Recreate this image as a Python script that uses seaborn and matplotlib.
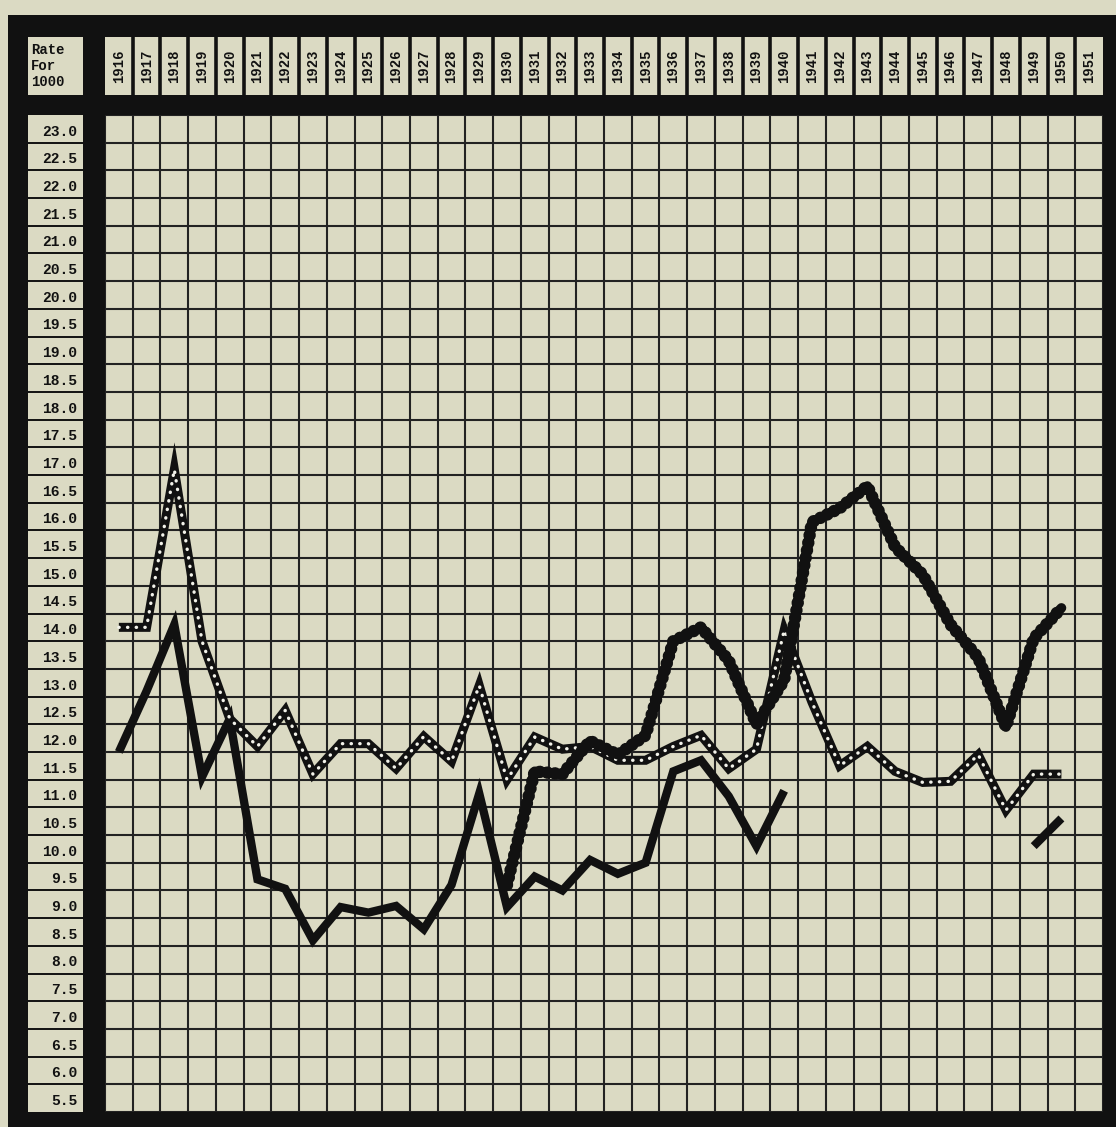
import pandas as pd
import numpy as np
import seaborn as sns
import matplotlib.pyplot as plt
from matplotlib.patches import Rectangle

paper = '#dbdac3'
ink = '#111111'

years = list(range(1916, 1952))

# heavy solid line (no values 1941-1948)
solid = [12.0, 13.1, 14.3, 11.55, 12.6, 9.7, 9.53, 8.6, 9.2, 9.1,
         9.22, 8.8, 9.6, 11.25, 9.2, 9.75, 9.5, 10.05, 9.8, 10.0,
         11.65, 11.85, 11.2, 10.3, 11.3, None, None, None, None, None,
         None, None, None, 10.3, 10.8, None]

# double line with white dots
dotted = [14.25, 14.25, 17.1, 14.0, 12.6, 12.1, 12.75, 11.6, 12.15, 12.15,
          11.7, 12.28, 11.83, 13.2, 11.5, 12.27, 12.05, 12.1, 11.85, 11.85,
          12.1, 12.3, 11.7, 12.05, 14.2, 12.9, 11.75, 12.1, 11.65, 11.45,
          11.47, 11.95, 10.95, 11.6, 11.6, None]

# beaded line, starts 1930
beaded = [None] * 14 + [9.6, 11.65, 11.6, 12.2, 11.95, 12.3, 14.0, 14.25, 13.65, 12.5,
                        13.3, 16.15, 16.4, 16.8, 15.7, 15.2, 14.3, 13.7, 12.45, 14.05,
                        14.6, None]

y_labels = np.arange(5.5, 23.01, 0.5)


def segments(vals):
    d = pd.DataFrame({'year': years, 'rate': pd.to_numeric(pd.Series(vals), errors='coerce')})
    d['seg'] = d['rate'].isna().cumsum()
    return d.dropna()


sns.set_style("white")
plt.rcParams['font.family'] = ['Liberation Mono', 'DejaVu Sans Mono']

W, H = 1116, 1127
fig = plt.figure(figsize=(W / 100, H / 100), dpi=100, facecolor=paper)

# black frame
fig.add_artist(Rectangle((8 / W, 0), 1 - 8 / W, (H - 15) / H, transform=fig.transFigure,
                         facecolor=ink, edgecolor='none', zorder=0))


def px_axes(x0, y0, x1, y1):
    a = fig.add_axes([x0 / W, (H - y1) / H, (x1 - x0) / W, (y1 - y0) / H])
    a.set_facecolor(paper)
    for s in a.spines.values():
        s.set_visible(False)
    a.set_xticks([])
    a.set_yticks([])
    return a


ax = px_axes(105, 115, 1103, 1112)
head = px_axes(105, 37, 1103, 95)
lab = px_axes(28, 115, 83, 1112)
corner = px_axes(28, 37, 83, 95)

# main grid
ax.set_xlim(1915.5, 1951.5)
ax.set_ylim(5.5, 23.5)
ax.set_xticks(np.arange(1915.5, 1951.6, 1))
ax.set_yticks(np.arange(5.5, 23.51, 0.5))
ax.tick_params(length=0, labelbottom=False, labelleft=False)
ax.grid(True, color='#222222', linewidth=1.5)
ax.set_axisbelow(True)

d = segments(solid)
sns.lineplot(data=d, x='year', y='rate', units='seg', estimator=None, ax=ax,
             color=ink, linewidth=6.0, solid_joinstyle='miter', solid_capstyle='butt')

d = segments(dotted)
sns.lineplot(data=d, x='year', y='rate', units='seg', estimator=None, ax=ax,
             color=ink, linewidth=6.5, solid_joinstyle='miter', solid_capstyle='butt')
sns.lineplot(data=d, x='year', y='rate', units='seg', estimator=None, ax=ax,
             color='#f2f2ea', linewidth=2.4, linestyle=(0, (0.1, 2.5)),
             dash_capstyle='round')

d = segments(beaded)
sns.lineplot(data=d, x='year', y='rate', units='seg', estimator=None, ax=ax,
             color=ink, linewidth=7.0, solid_joinstyle='round')
sns.lineplot(data=d, x='year', y='rate', units='seg', estimator=None, ax=ax,
             color=ink, linewidth=9.0, linestyle=(0, (0.01, 0.6)),
             dash_capstyle='round')
ax.set_xlabel('')
ax.set_ylabel('')

# year header
head.set_xlim(1915.5, 1951.5)
head.set_ylim(0, 1)
head.vlines(np.arange(1916.5, 1951.5, 1), 0, 1, color=ink, linewidth=2.6)
for yr in years:
    head.text(yr, 0.5, str(yr), rotation=90, ha='center', va='center',
              fontsize=10, fontweight='bold', color=ink)

# rate labels
lab.set_xlim(0, 1)
lab.set_ylim(5.5, 23.5)
lab.hlines(np.arange(6.0, 23.01, 0.5), 0, 1, color=ink, linewidth=1.4)
for v in y_labels:
    lab.text(0.9, v + 0.2, '{:.1f}'.format(v), ha='right', va='center',
             fontsize=10.5, fontweight='bold', color=ink)

corner.text(0.05, 0.5, 'Rate\nFor\n1000', ha='left', va='center',
            fontsize=10, fontweight='bold', color=ink, linespacing=1.15)

plt.savefig('out.png', dpi=100, facecolor=paper)
plt.close()
